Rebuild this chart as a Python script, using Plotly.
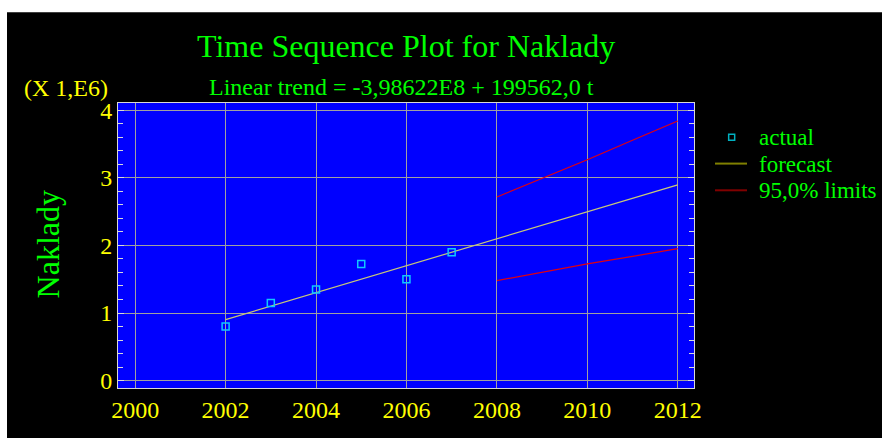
import plotly.graph_objects as go

# ---- data (values in millions) ----
actual_years = [2002, 2003, 2004, 2005, 2006, 2007]
actual_values = [0.800, 1.148, 1.346, 1.725, 1.499, 1.900]

forecast_years = [2002, 2003, 2004, 2005, 2006, 2007, 2008, 2009, 2010, 2011, 2012]
forecast_values = [0.901, 1.101, 1.300, 1.500, 1.699, 1.899, 2.098, 2.298, 2.497, 2.697, 2.897]

limit_years = [2008, 2009, 2010, 2011, 2012]
upper_limits = [2.716, 2.988, 3.267, 3.557, 3.842]
lower_limits = [1.480, 1.608, 1.727, 1.837, 1.952]

x_ticks = [2000, 2002, 2004, 2006, 2008, 2010, 2012]
y_ticks = [0, 1, 2, 3, 4]

legend_labels = ["actual", "forecast", "95,0% limits"]

SERIF = "Liberation Serif, Times New Roman, serif"
GREEN = "#00FF00"
YELLOW = "#FFFF00"

fig = go.Figure()

fig.add_trace(go.Scatter(x=forecast_years, y=forecast_values, mode="lines", name=legend_labels[1],
                         line=dict(color="#C8C878", width=1.2), showlegend=False, hoverinfo="skip"))
fig.add_trace(go.Scatter(x=limit_years, y=upper_limits, mode="lines", name=legend_labels[2],
                         line=dict(color="#E00010", width=1.2), showlegend=False, hoverinfo="skip"))
fig.add_trace(go.Scatter(x=limit_years, y=lower_limits, mode="lines", name=legend_labels[2],
                         line=dict(color="#E00010", width=1.2), showlegend=False, hoverinfo="skip"))
fig.add_trace(go.Scatter(x=actual_years, y=actual_values, mode="markers", name=legend_labels[0],
                         marker=dict(symbol="square-open", size=7, color="#10C8FF",
                                     line=dict(width=1.5, color="#10C8FF")),
                         showlegend=False))

# manual legend (paper coordinates relative to plot area)
leg_text_x = 1.1094
leg_rows_y = [0.8796, 0.7849, 0.6937]
shapes = [
    # white strips at top and left of the page
    dict(type="rect", xref="paper", yref="paper", x0=-0.3, x1=1.4, y0=1.318, y1=1.6,
         fillcolor="white", line=dict(width=0), layer="above"),
    dict(type="rect", xref="paper", yref="paper", x0=-0.3, x1=-0.1927, y0=-0.3, y1=1.6,
         fillcolor="white", line=dict(width=0), layer="above"),
    # legend symbols
    dict(type="rect", xref="paper", yref="paper", x0=1.0602, x1=1.0706,
         y0=leg_rows_y[0] - 0.0105, y1=leg_rows_y[0] + 0.0105,
         fillcolor="rgba(0,0,0,0)", line=dict(color="#00B0C0", width=1.5), layer="above"),
    dict(type="line", xref="paper", yref="paper", x0=1.0365, x1=1.092,
         y0=0.7874, y1=0.7874, line=dict(color="#808000", width=2), layer="above"),
    dict(type="line", xref="paper", yref="paper", x0=1.0365, x1=1.092,
         y0=0.6937, y1=0.6937, line=dict(color="#800000", width=2), layer="above"),
]

annotations = [
    dict(text="Time Sequence Plot for Naklady", xref="paper", yref="paper",
         x=0.5, y=1.199, xanchor="center", yanchor="middle", showarrow=False,
         font=dict(family=SERIF, size=32, color=GREEN)),
    dict(text="Linear trend = -3,98622E8 + 199562,0 t", xref="paper", yref="paper",
         x=0.493, y=1.055, xanchor="center", yanchor="middle", showarrow=False,
         font=dict(family=SERIF, size=24, color=GREEN)),
    dict(text="(X 1,E6)", xref="paper", yref="paper",
         x=-0.166, y=1.052, xanchor="left", yanchor="middle", showarrow=False,
         font=dict(family=SERIF, size=24, color=YELLOW)),
    dict(text="Naklady", xref="paper", yref="paper", textangle=-90,
         x=-0.1215, y=0.504, xanchor="center", yanchor="middle", showarrow=False,
         font=dict(family=SERIF, size=32, color=GREEN)),
]
for lab, ly in zip(legend_labels, leg_rows_y):
    annotations.append(dict(text=lab, xref="paper", yref="paper", x=leg_text_x, y=ly,
                            xanchor="left", yanchor="middle", showarrow=False,
                            font=dict(family=SERIF, size=23, color=GREEN)))

fig.update_layout(
    width=882, height=438,
    margin=dict(l=118, r=188, t=103, b=50, pad=0),
    paper_bgcolor="black",
    plot_bgcolor="#0000FF",
    showlegend=False,
    font=dict(family=SERIF, color=YELLOW, size=24),
    xaxis=dict(range=[1999.62, 2012.36], tickvals=x_ticks, ticktext=[str(v) for v in x_ticks],
               showgrid=True, gridcolor="#A0A0A0", gridwidth=1,
               showline=True, linecolor="#D8D8D8", linewidth=1, mirror=True,
               ticks="", zeroline=False,
               tickfont=dict(family=SERIF, size=24, color=YELLOW)),
    yaxis=dict(range=[-0.11, 4.108], tickvals=y_ticks,
               showgrid=True, gridcolor="#A0A0A0", gridwidth=1,
               showline=True, linecolor="#D8D8D8", linewidth=1, mirror="allticks",
               ticks="inside", ticklen=6, tickcolor="#D8D8D8", zeroline=False,
               minor=dict(dtick=0.2, tick0=0, ticks="inside", ticklen=5, tickcolor="#D8D8D8", showgrid=False),
               tickfont=dict(family=SERIF, size=24, color=YELLOW)),
    shapes=shapes,
    annotations=annotations,
)

fig.write_html(
    "out.html",
    config={"displayModeBar": False},
    post_script="document.body.style.margin='0';document.body.style.overflow='hidden';",
)
